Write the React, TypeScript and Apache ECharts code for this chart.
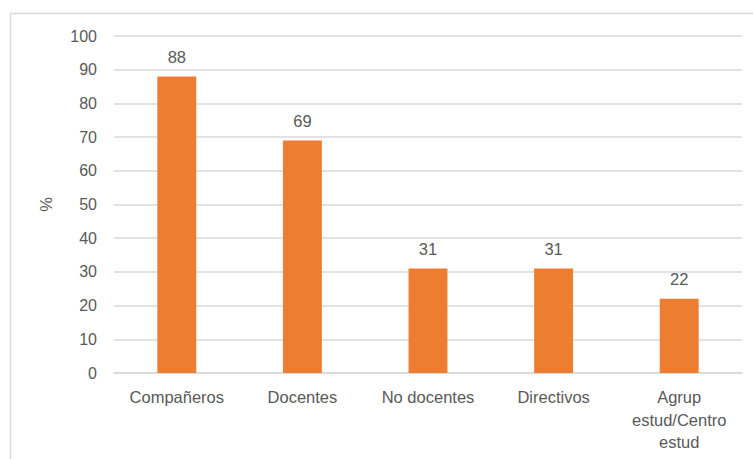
import React, { useEffect, useRef } from "react";
import * as echarts from "echarts";

const categories = [
  "Compañeros",
  "Docentes",
  "No docentes",
  "Directivos",
  "Agrup\nestud/Centro\nestud",
];
const values = [88, 69, 31, 31, 22];
const yTicks = { min: 0, max: 100, interval: 10 };

const textColor = "#595959";
const fontFamily = "'Liberation Sans', Arial, sans-serif";

export default function App() {
  const ref = useRef<HTMLDivElement>(null);

  useEffect(() => {
    document.body.style.margin = "0";
    const chart = echarts.init(ref.current!, null, { renderer: "svg" });
    chart.setOption({
      animation: false,
      backgroundColor: "#ffffff",
      textStyle: { fontFamily },
      graphic: [
        {
          type: "rect",
          shape: { x: 10.5, y: 13.5, width: 760, height: 460 },
          style: { fill: "none", stroke: "#d9d9d9", lineWidth: 1.5 },
          silent: true,
        },
      ],
      grid: { left: 114, right: 11, top: 36, bottom: 86 },
      xAxis: {
        type: "category",
        data: categories,
        axisTick: { show: false },
        axisLine: { lineStyle: { color: "#d9d9d9", width: 1.5 } },
        axisLabel: {
          color: textColor,
          fontSize: 16.5,
          lineHeight: 22.5,
          margin: 13,
          interval: 0,
        },
      },
      yAxis: {
        type: "value",
        min: yTicks.min,
        max: yTicks.max,
        interval: yTicks.interval,
        name: "%",
        nameLocation: "middle",
        nameGap: 60,
        nameRotate: 90,
        nameTextStyle: { color: textColor, fontSize: 16.5 },
        axisLine: { show: false },
        axisTick: { show: false },
        axisLabel: { color: textColor, fontSize: 16, margin: 17 },
        splitLine: { lineStyle: { color: "#d9d9d9", width: 1.5 } },
      },
      series: [
        {
          type: "bar",
          data: values,
          barWidth: "31%",
          itemStyle: { color: "#ed7d31" },
          label: {
            show: true,
            position: "top",
            distance: 11,
            color: textColor,
            fontSize: 16.5,
          },
        },
      ],
    });
    return () => chart.dispose();
  }, []);

  return <div ref={ref} style={{ width: 753, height: 459 }} />;
}
